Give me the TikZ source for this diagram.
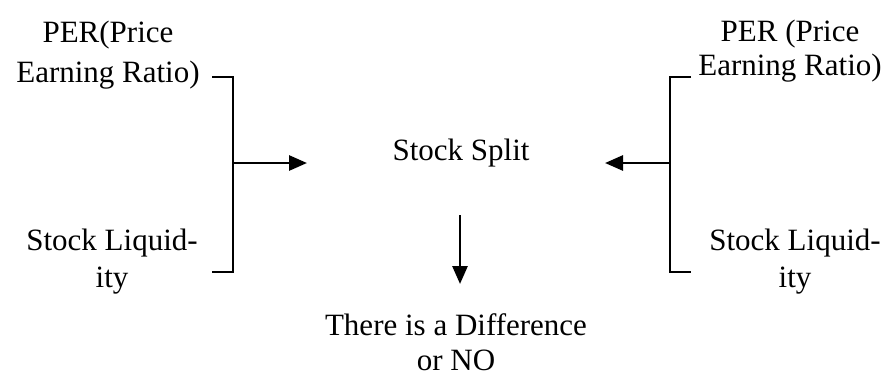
\documentclass[tikz,border=0pt]{standalone}
\usepackage{fontspec}
\setmainfont{Liberation Serif}
\usetikzlibrary{arrows.meta}
\begin{document}
\begin{tikzpicture}[x=1pt,y=-1pt,
  lbl/.style={inner sep=0pt,align=center,font=\fontsize{31}{37}\selectfont},
  ln/.style={line width=2.8pt},
  arr/.style={line width=2.8pt,-{Triangle[length=18pt,width=15pt]}}]
\useasboundingbox (0,0) rectangle (894,376);
% texts
\node[lbl,font=\fontsize{31}{40}\selectfont] (perL) at (108,55) {PER(Price\\Earning Ratio)};
\node[lbl] (liqL) at (112,262) {Stock Liquid-\\ity};
\node[lbl,font=\fontsize{31}{34}\selectfont] (perR) at (790,51) {PER (Price\\Earning Ratio)};
\node[lbl] (liqR) at (795,262) {Stock Liquid-\\ity};
\node[lbl] (split) at (461,153) {Stock Split};
\node[lbl,font=\fontsize{31}{35}\selectfont] (res) at (456,342) {There is a Difference\\or NO};
% left bracket
\coordinate (lt0) at (212,77);
\coordinate (lt1) at (233,77);
\coordinate (lb0) at (212,272);
\coordinate (lb1) at (233,272);
\coordinate (lm) at (233,163);
\coordinate (le) at (307,163);
\draw[ln] (lt0) -- (lt1) -- (lb1) -- (lb0);
\draw[arr] (lm) -- (le);
% right bracket
\coordinate (rt0) at (691,77);
\coordinate (rt1) at (670,77);
\coordinate (rb0) at (691,272);
\coordinate (rb1) at (670,272);
\coordinate (rm) at (670,163);
\coordinate (re) at (605,163);
\draw[ln] (rt0) -- (rt1) -- (rb1) -- (rb0);
\draw[arr] (rm) -- (re);
% down arrow
\coordinate (d0) at (460,215);
\coordinate (d1) at (460,284);
\draw[arr] (d0) -- (d1);
\end{tikzpicture}
\end{document}
